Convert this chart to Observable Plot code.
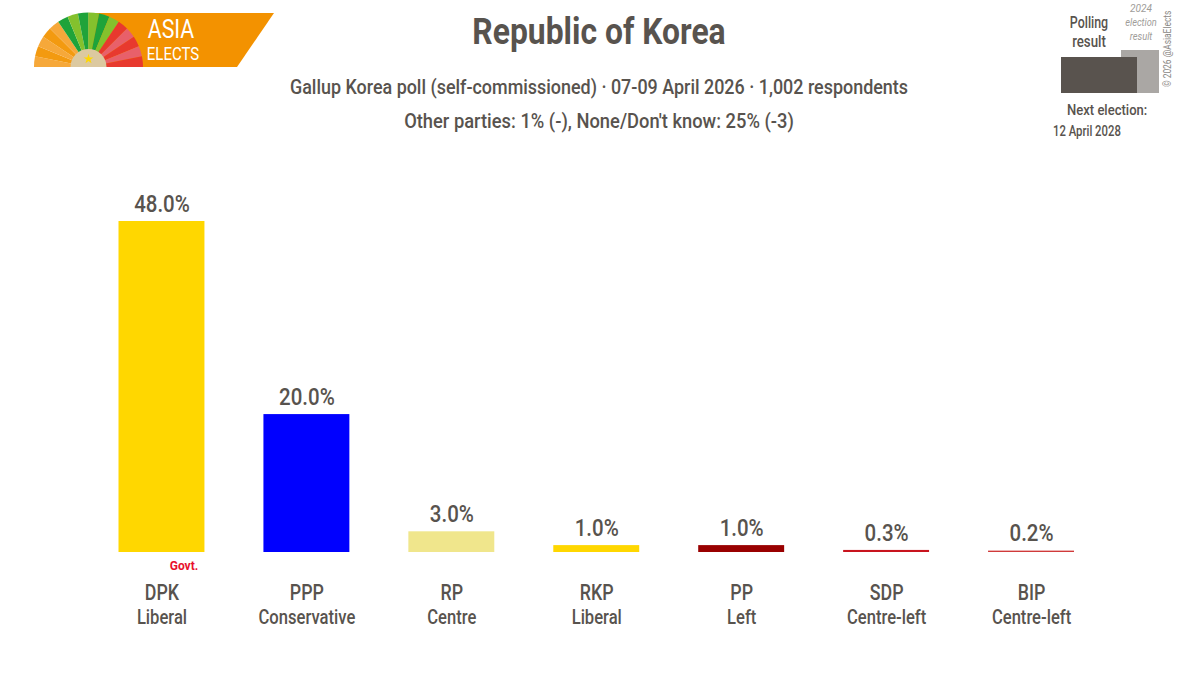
<!DOCTYPE html>
<html><head><meta charset="utf-8">
<script src="https://cdn.jsdelivr.net/npm/d3@7"></script>
<script src="https://cdn.jsdelivr.net/npm/@observablehq/plot@0.6"></script>
<style>
html,body{margin:0;padding:0;background:#fff;width:1199px;height:691px;overflow:hidden}
#wrap{position:relative;width:1199px;height:691px;font-family:"Roboto",sans-serif;color:#58534e}
#chart{position:absolute;left:0;top:0}
.t{position:absolute;white-space:nowrap;line-height:1;font-weight:500}
#deco{position:absolute;left:0;top:0}
</style></head><body>
<div id="wrap">
<div id="chart"></div>
<svg id="deco" width="1199" height="160"></svg>
<div class="t" data-c="1" data-w="253" style="left:599px;top:13px;font-size:37px;font-weight:700">Republic of Korea</div>
<div class="t" data-c="1" data-w="618" style="left:599px;top:77px;font-size:21px">Gallup Korea poll (self-commissioned) · 07-09 April 2026 · 1,002 respondents</div>
<div class="t" data-c="1" data-w="390" style="left:599px;top:111px;font-size:21px">Other parties: 1% (-), None/Don't know: 25% (-3)</div>
<div class="t" data-c="1" data-w="46" style="left:171px;top:17px;font-size:25px;color:#fff;font-weight:400">ASIA</div>
<div class="t" data-c="1" data-w="52" style="left:173px;top:44px;font-size:19px;color:#fff;font-weight:400">ELECTS</div>
<div class="t" data-c="1" data-w="38" style="left:1089px;top:15px;font-size:16px">Polling</div>
<div class="t" data-c="1" data-w="34" style="left:1089px;top:34px;font-size:16px">result</div>
<div class="t" data-c="1" data-w="22" style="left:1141px;top:3px;font-size:11px;font-style:italic;color:#a09d9a;font-weight:400">2024</div>
<div class="t" data-c="1" data-w="32" style="left:1141px;top:17px;font-size:11px;font-style:italic;color:#a09d9a;font-weight:400">election</div>
<div class="t" data-c="1" data-w="23" style="left:1141px;top:31px;font-size:11px;font-style:italic;color:#a09d9a;font-weight:400">result</div>
<div class="t" id="copy" style="left:1163px;top:87px;font-size:10px;color:#8c8986;font-weight:400;transform-origin:0 0;transform:rotate(-90deg) scaleX(.84)">© 2026 @AsiaElects</div>
<div class="t" data-w="80" style="left:1067px;top:103px;font-size:15px">Next election:</div>
<div class="t" data-w="68" style="left:1053px;top:124px;font-size:14px">12 April 2028</div>
</div>
<script>
const parties = ["DPK","PPP","RP","RKP","PP","SDP","BIP"];
const ideologies = ["Liberal","Conservative","Centre","Liberal","Left","Centre-left","Centre-left"];
const shares = [48.0,20.0,3.0,1.0,1.0,0.3,0.2];
const colours = ["#ffd700","#0000ff","#f0e68c","#ffd700","#990000","#c8141e","#d03a3a"];
const rows = parties.map((party,i)=>({party,ideology:ideologies[i],share:shares[i],colour:colours[i]}));
const font = '"Roboto",sans-serif';
const ink = "#58534e";

const plot = Plot.plot({
  width:1199,height:691,
  marginLeft:118.5,marginRight:125,marginTop:221,marginBottom:139,
  style:{background:"transparent",fontFamily:font},
  x:{domain:parties,paddingInner:0.407,paddingOuter:0,round:false,label:null},
  y:{domain:[0,48],axis:null,label:null},
  marks:[
    Plot.barY(rows,{x:"party",y:"share",fill:"colour"}),
    Plot.axisX({tickSize:0,tickPadding:32,fontSize:22,fontWeight:500,fill:ink,label:null,className:"party"}),
    Plot.text(rows,{x:"party",y:0,dy:65,text:"ideology",fontSize:20,fontWeight:500,fill:ink,className:"ideo"}),
    Plot.text(rows,{x:"party",y:"share",dy:-17,text:d=>d.share.toFixed(1)+"%",fontSize:23,fontWeight:500,fill:ink,className:"val"}),
    Plot.text(rows.slice(0,1),{x:"party",y:0,dy:14,dx:22,text:()=>"Govt.",fontSize:12,fontWeight:700,fill:"#e8112d"})
  ]
});
document.getElementById("chart").append(plot);

// narrow the Roboto glyphs to the reference's condensed letterforms
function squeeze(sel,k){
  plot.querySelectorAll(sel).forEach(el=>{
    el.setAttribute("lengthAdjust","spacingAndGlyphs");
    el.setAttribute("textLength",el.getComputedTextLength()*k);
  });
}
squeeze(".party text",0.81);
squeeze(".ideo text",0.83);
squeeze(".val text",0.89);

document.querySelectorAll(".t[data-w]").forEach(el=>{
  const k=+el.dataset.w/el.offsetWidth;
  if(el.dataset.c){el.style.transform=`translateX(-50%) scaleX(${k})`;}
  else{el.style.transformOrigin="0 0";el.style.transform=`scaleX(${k})`;}
});

// logo and legend decoration
const deco = d3.select("#deco");
const cx=88.5, cy=67, R=54.5;
deco.append("path").attr("d",`M${cx} 13H274L237 67H${cx}Z`).attr("fill","#f39200");
const wedgeCols=["#f6a83a","#f39a10","#f6a83a","#f39a10","#f6a83a","#1fa33a","#84c12d","#1fa33a","#84c12d","#1fa33a","#84c12d","#e8392e","#e8606a","#e8392e","#e8606a","#e8392e"];
const arc=d3.arc().innerRadius(0).outerRadius(R);
const n=wedgeCols.length;
wedgeCols.forEach((c,i)=>{
  const a0=-Math.PI/2+i*Math.PI/n, a1=a0+Math.PI/n;
  deco.append("path").attr("transform",`translate(${cx},${cy})`).attr("d",arc({startAngle:a0,endAngle:a1})).attr("fill",c);
});
deco.append("path").attr("transform",`translate(${cx},${cy})`).attr("d",d3.arc().innerRadius(0).outerRadius(18)({startAngle:-Math.PI/2,endAngle:Math.PI/2})).attr("fill","#dcc9a0");
deco.append("path").attr("transform",`translate(${cx},${cy-8})`).attr("d",d3.symbol(d3.symbolStar,30)()).attr("fill","#ffd700");
deco.append("rect").attr("x",1121).attr("y",50).attr("width",38).attr("height",43).attr("fill","#aaa7a4");
deco.append("rect").attr("x",1061).attr("y",57).attr("width",76).attr("height",36).attr("fill","#59534e");
</script>
</body></html>
